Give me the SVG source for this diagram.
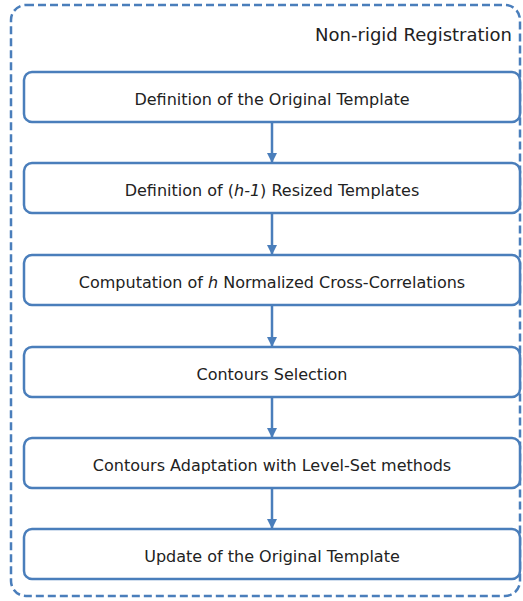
<svg xmlns="http://www.w3.org/2000/svg" width="523" height="601" viewBox="0 0 523 601">
<defs>
<style>
.frame{fill:none;stroke:#4a7ebb;stroke-width:2.5;stroke-dasharray:8,4}
.box{fill:#fff;stroke:#4a7ebb;stroke-width:2.5}
.lbl{font-family:"DejaVu Sans","Liberation Sans",sans-serif;font-size:16px;fill:#222;text-anchor:middle}
.title{font-family:"DejaVu Sans","Liberation Sans",sans-serif;font-size:18px;fill:#222;text-anchor:end}
.conn{stroke:#4a7ebb;stroke-width:2.5;fill:none;marker-end:url(#ah)}
</style>
<marker id="ah" viewBox="0 0 10 10" refX="9" refY="5" markerWidth="4" markerHeight="4" orient="auto" markerUnits="strokeWidth">
<path d="M0,0 L10,5 L0,10 z" fill="#4a7ebb"/>
</marker>
</defs>
<g id="frame">
<rect class="frame" x="11" y="5" width="509" height="591" rx="15"/>
<text class="title" x="512" y="41">Non-rigid Registration</text>
</g>
<g id="connectors">
<line class="conn" x1="272" y1="123" x2="272" y2="162"/>
<line class="conn" x1="272" y1="214" x2="272" y2="254"/>
<line class="conn" x1="272" y1="306" x2="272" y2="346"/>
<line class="conn" x1="272" y1="398" x2="272" y2="437"/>
<line class="conn" x1="272" y1="489" x2="272" y2="528"/>
</g>
<g id="n1"><rect class="box" x="24" y="72" width="496" height="50" rx="8"/><text class="lbl" x="272" y="105">Definition of the Original Template</text></g>
<g id="n2"><rect class="box" x="24" y="163" width="496" height="50" rx="8"/><text class="lbl" x="272" y="196">Definition of (<tspan font-style="italic">h-1</tspan>) Resized Templates</text></g>
<g id="n3"><rect class="box" x="24" y="255" width="496" height="50" rx="8"/><text class="lbl" x="272" y="288">Computation of <tspan font-style="italic">h</tspan> Normalized Cross-Correlations</text></g>
<g id="n4"><rect class="box" x="24" y="347" width="496" height="50" rx="8"/><text class="lbl" x="272" y="380">Contours Selection</text></g>
<g id="n5"><rect class="box" x="24" y="438" width="496" height="50" rx="8"/><text class="lbl" x="272" y="471">Contours Adaptation with Level-Set methods</text></g>
<g id="n6"><rect class="box" x="24" y="529" width="496" height="50" rx="8"/><text class="lbl" x="272" y="562">Update of the Original Template</text></g>
</svg>
